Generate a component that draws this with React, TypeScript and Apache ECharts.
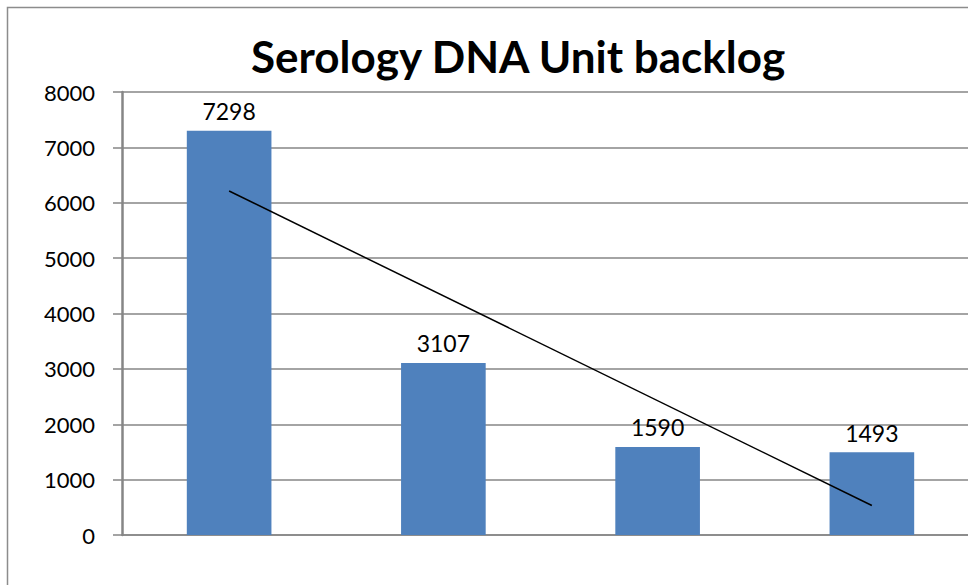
import React, { useEffect, useRef } from "react";
import * as echarts from "echarts";

const titleText = "Serology DNA Unit backlog";
const categories = ["A", "B", "C", "D"];
const backlogValues = [7298, 3107, 1590, 1493];
const trendValues: (number | string)[] = [6212, "-", "-", 532];
const yTicks = { min: 0, max: 8000, interval: 1000 };

export default function App() {
  const ref = useRef<HTMLDivElement>(null);
  useEffect(() => {
    if (!ref.current) return;
    const chart = echarts.init(ref.current, undefined, { renderer: "svg" });
    const font = "Lato, 'Open Sans', sans-serif";
    chart.setOption({
      animation: false,
      backgroundColor: "#ffffff",
      title: {
        text: titleText,
        left: 246,
        top: 29,
        textStyle: { fontFamily: font, fontWeight: "bold", fontSize: 44, color: "#000" },
      },
      graphic: [
        {
          type: "rect",
          shape: { x: 7.5, y: 7.5, width: 1100, height: 1000 },
          style: { fill: "none", stroke: "#8c8c8c", lineWidth: 1.5 },
          silent: true,
        },
      ],
      grid: { left: 122, top: 92, bottom: 50, width: 857, containLabel: false },
      xAxis: {
        type: "category",
        data: categories,
        axisLabel: { show: false },
        axisTick: { show: false },
        axisLine: { show: true, lineStyle: { color: "#868686", width: 1.5 } },
      },
      yAxis: {
        type: "value",
        min: yTicks.min,
        max: yTicks.max,
        interval: yTicks.interval,
        axisLine: { show: true, lineStyle: { color: "#868686", width: 2.5 } },
        axisTick: { show: true, length: 9, lineStyle: { color: "#868686", width: 1.5 } },
        axisLabel: {
          margin: 27,
          fontFamily: font,
          fontSize: 22,
          color: "#000",
          formatter: (v: number) => String(v),
        },
        splitLine: { show: true, lineStyle: { color: "#868686", width: 1.5 } },
      },
      series: [
        {
          type: "bar",
          data: backlogValues,
          barWidth: "39.5%",
          itemStyle: { color: "#4F81BD" },
          label: {
            show: true,
            position: "top",
            distance: 8,
            fontFamily: font,
            fontSize: 23,
            color: "#000",
          },
        },
        {
          type: "line",
          data: trendValues,
          connectNulls: true,
          symbol: "none",
          lineStyle: { color: "#000", width: 1.5 },
          itemStyle: { color: "#000" },
          z: 5,
        },
      ],
    });
    return () => chart.dispose();
  }, []);
  return (
    <div
      style={{
        position: "fixed",
        left: 0,
        top: 0,
        width: 968,
        height: 585,
        overflow: "hidden",
      }}
    >
      <div ref={ref} style={{ width: 1020, height: 585 }} />
    </div>
  );
}
